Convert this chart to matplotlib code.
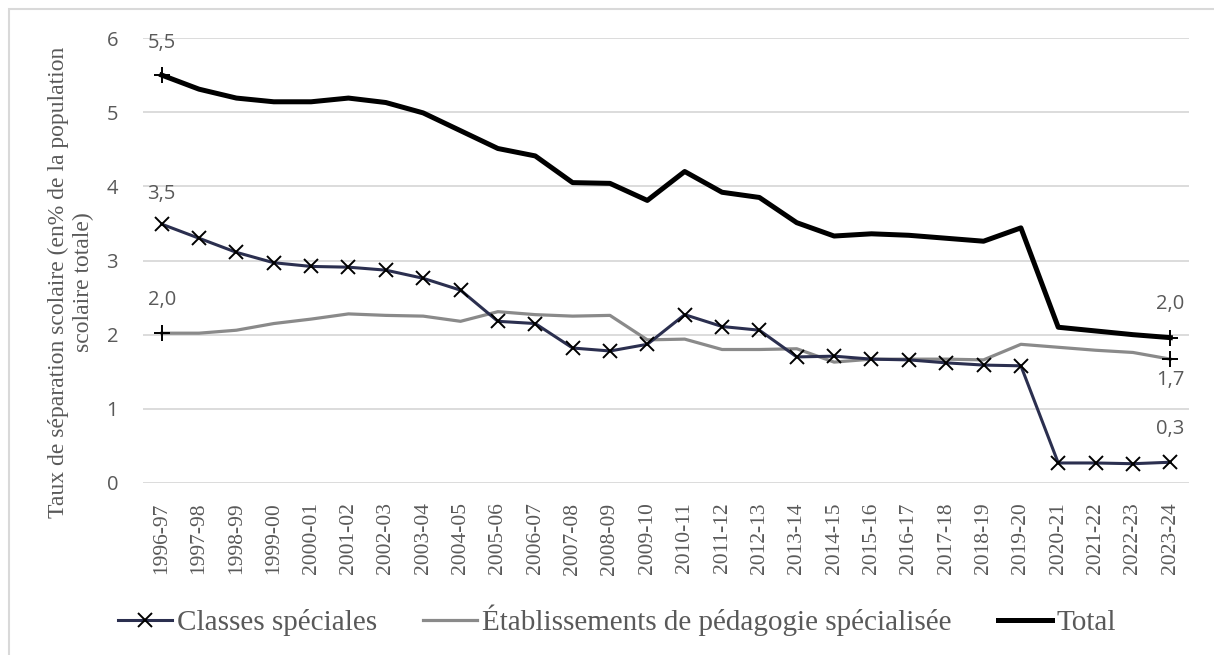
import matplotlib.pyplot as plt
from matplotlib.patches import Rectangle

# Années scolaires
annees = ['1996-97', '1997-98', '1998-99', '1999-00', '2000-01', '2001-02', '2002-03',
          '2003-04', '2004-05', '2005-06', '2006-07', '2007-08', '2008-09', '2009-10',
          '2010-11', '2011-12', '2012-13', '2013-14', '2014-15', '2015-16', '2016-17',
          '2017-18', '2018-19', '2019-20', '2020-21', '2021-22', '2022-23', '2023-24']

# Taux de séparation (en % de la population scolaire totale)
classes_speciales = [3.49, 3.30, 3.11, 2.97, 2.92, 2.91, 2.87, 2.76, 2.60, 2.18, 2.15, 1.82,
                     1.78, 1.87, 2.27, 2.11, 2.06, 1.70, 1.71, 1.67, 1.66, 1.62, 1.59, 1.58,
                     0.27, 0.27, 0.26, 0.28]
etablissements = [2.02, 2.02, 2.06, 2.15, 2.21, 2.28, 2.26, 2.25, 2.18, 2.31, 2.27, 2.25,
                  2.26, 1.93, 1.94, 1.80, 1.80, 1.81, 1.63, 1.67, 1.67, 1.67, 1.66, 1.87,
                  1.83, 1.79, 1.76, 1.67]
total = [5.50, 5.31, 5.19, 5.14, 5.14, 5.19, 5.13, 4.99, 4.75, 4.51, 4.41, 4.05, 4.04, 3.81,
         4.20, 3.92, 3.85, 3.51, 3.33, 3.36, 3.34, 3.30, 3.26, 3.44, 2.10, 2.05, 2.00, 1.96]

GRIS_TEXTE = '#595959'
GRIS_GRILLE = '#D9D9D9'
MARINE = '#2B2F4F'
GRIS = '#8A8A8A'

W, H = 1214, 655
fig = plt.figure(figsize=(W / 100, H / 100), dpi=100)
fig.patch.set_facecolor('white')

# cadre gris clair autour du graphique
fig.patches.append(Rectangle((9 / W, -0.1), 1.2, 1 - 9 / H + 0.1, transform=fig.transFigure,
                             fill=False, edgecolor=GRIS_GRILLE, lw=1.5))

ax = fig.add_axes([143 / W, 1 - 483 / H, (1189 - 143) / W, (483 - 38) / H])
x = list(range(len(annees)))

ax.plot(x, classes_speciales, color=MARINE, lw=2.2, marker='x', markersize=10,
        markeredgecolor='black', markeredgewidth=1.4, label='Classes spéciales', zorder=3)
ax.plot(x, etablissements, color=GRIS, lw=2.3,
        label='Établissements de pédagogie spécialisée', zorder=2)
ax.plot(x, total, color='black', lw=3.6, label='Total', zorder=4)

# marqueurs "+" aux extrémités
for serie in (etablissements, total):
    ax.plot([x[0], x[-1]], [serie[0], serie[-1]], ls='none', marker='+', markersize=12,
            markeredgecolor='black', markeredgewidth=1.4, zorder=5)

# étiquettes de début et de fin
def etiquette(i, v, dy):
    ax.annotate(f'{v:.1f}'.replace('.', ','), (x[i], v), xytext=(0, dy),
                textcoords='offset points', ha='center', va='center',
                fontsize=14.5, family='Open Sans', color=GRIS_TEXTE)

etiquette(0, total[0], 23)
etiquette(0, classes_speciales[0], 22)
etiquette(0, etablissements[0], 24)
etiquette(-1, total[-1], 24)
etiquette(-1, etablissements[-1], -15)
etiquette(-1, classes_speciales[-1], 24)

ax.set_xlim(-0.5, len(annees) - 0.5)
ax.set_ylim(0, 6)
ax.set_yticks(range(7))
ax.set_yticklabels([str(v) for v in range(7)], family='Open Sans', fontsize=14.5,
                   color=GRIS_TEXTE)
ax.set_xticks(x)
ax.set_xticklabels(annees, rotation=90, family='Liberation Serif', fontsize=15.5,
                   color=GRIS_TEXTE)
ax.tick_params(axis='both', length=0)
ax.tick_params(axis='y', pad=18)
ax.tick_params(axis='x', pad=14)

ax.grid(axis='y', color=GRIS_GRILLE, lw=1.3)
ax.set_axisbelow(True)
for s in ax.spines.values():
    s.set_visible(False)

fig.text(71 / W, 1 - 282 / H,
         'Taux de séparation scolaire (en% de la population\nscolaire totale)',
         rotation=90, ha='center', va='center', family='Liberation Serif', fontsize=17,
         color=GRIS_TEXTE, linespacing=1.2)

leg = fig.legend(loc='center', bbox_to_anchor=(617 / W, 1 - 620 / H), ncol=3,
                 frameon=False, handlelength=1.85, handletextpad=0.15, columnspacing=1.6,
                 prop={'family': 'Liberation Serif', 'size': 21})
for t in leg.get_texts():
    t.set_color(GRIS_TEXTE)

fig.savefig('out.png', dpi=100)
